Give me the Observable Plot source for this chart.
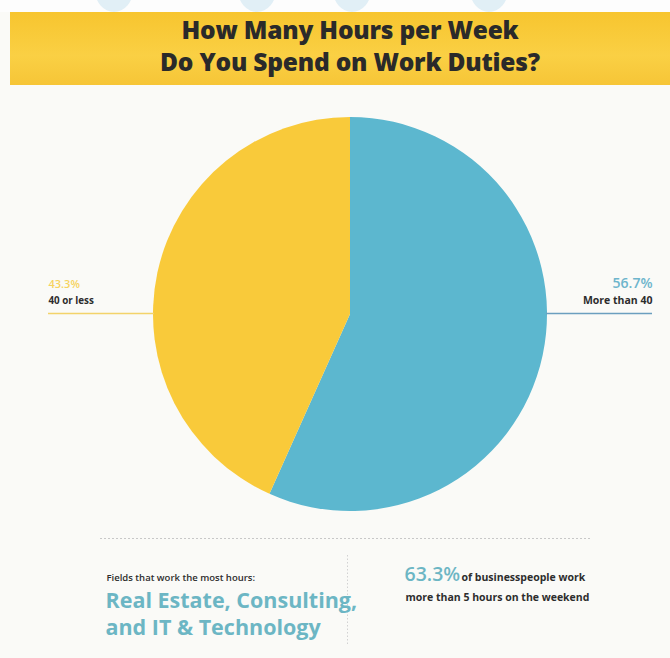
<!DOCTYPE html>
<html>
<head>
<meta charset="utf-8">
<script src="https://cdn.jsdelivr.net/npm/d3@7"></script>
<script src="https://cdn.jsdelivr.net/npm/@observablehq/plot@0.6"></script>
<style>
  html, body { margin: 0; padding: 0; background: #fafaf7; width: 670px; height: 658px; overflow: hidden; }
  #top { height: 12px; background: #fdfdfd; position: relative; overflow: hidden; }
  #top span { position: absolute; top: -32px; width: 38px; height: 44px; border-radius: 50%; background: #e1eff6; }
  #banner { margin-left: 10px; height: 73px; background: linear-gradient(180deg, #f7c52f 0%, #fad044 60%, #f6c537 100%);
    display: flex; flex-direction: column; justify-content: center; align-items: center; padding-bottom: 5px; padding-left: 20px; box-sizing: border-box;
    font-family: "Open Sans", sans-serif; font-weight: 800; font-size: 24.5px; line-height: 32px; color: #2a2a2a; letter-spacing: -0.2px; }
  #chart svg { display: block; }
</style>
</head>
<body>
<div id="top"><span style="left:95px"></span><span style="left:238px"></span><span style="left:333px"></span><span style="left:470px"></span></div>
<div id="banner"><div>How Many Hours per Week</div><div>Do You Spend on Work Duties?</div></div>
<div id="chart"></div>
<script>
const segments = ["More than 40", "40 or less"];
const shares = [56.7, 43.3];
const shareLabels = ["56.7%", "43.3%"];
const sliceColors = ["#5cb7cf", "#f9ca3a"];
const fieldsIntro = "Fields that work the most hours:";
const fieldsLines = ["Real Estate, Consulting,", "and IT & Technology"];
const weekendShare = "63.3%";
const weekendLines = ["of businesspeople work", "more than 5 hours on the weekend"];

const data = segments.map((s, i) => ({segment: s, share: shares[i], label: shareLabels[i], color: sliceColors[i]}));

const TOP = 85;
const W = 670, H = 658 - TOP;
const CX = 350, CY = 314, R = 197;

function pieMark(index, scales) {
  const arcs = d3.pie().sort(null).value(d => d.share)(data);
  const cx = scales.x(CX), cy = scales.y(CY);
  const r = scales.x(CX + R) - cx;
  const arc = d3.arc().innerRadius(0).outerRadius(r);
  const g = d3.create("svg:g").attr("transform", `translate(${cx},${cy})`);
  g.selectAll("path").data(arcs).join("path")
    .attr("d", arc)
    .attr("fill", d => d.data.color);
  return g.node();
}

const font = "Open Sans, sans-serif";
const dark = "#2d2d2d";
const teal = "#6cb6c4";

const chart = Plot.plot({
  width: W,
  height: H,
  margin: 0,
  x: {domain: [0, W], range: [0, W], axis: null},
  y: {domain: [TOP, 658], range: [0, H], axis: null},
  style: {fontFamily: font, background: "transparent"},
  marks: [
    pieMark,
    // left label
    Plot.ruleY([313], {x1: 48, x2: 154, stroke: "#f3d36a", strokeWidth: 1.3}),
    Plot.text([data[1]], {x: 48, y: 284, text: "label", fill: "#f6d35e", fontSize: 11, fontWeight: 600, textAnchor: "start", fontFamily: font}),
    Plot.text([data[1]], {x: 48, y: 300, text: "segment", fill: dark, fontSize: 9.8, fontWeight: 700, textAnchor: "start", fontFamily: font}),
    // right label
    Plot.ruleY([313], {x1: 546, x2: 652, stroke: "#6b9fbf", strokeWidth: 1.3}),
    Plot.text([data[0]], {x: 652, y: 283, text: "label", fill: "#6db5cc", fontSize: 14, fontWeight: 600, textAnchor: "end", fontFamily: font}),
    Plot.text([data[0]], {x: 652, y: 300, text: "segment", fill: dark, fontSize: 10.5, fontWeight: 700, textAnchor: "end", fontFamily: font}),
    // dotted separators
    Plot.ruleY([538], {x1: 100, x2: 592, stroke: "#c8c8c8", strokeDasharray: "2,2", strokeWidth: 1}),
    Plot.ruleX([347], {y1: 555, y2: 645, stroke: "#d2d2d2", strokeDasharray: "1.5,2", strokeWidth: 1}),
    // bottom left
    Plot.text([fieldsIntro], {x: 106, y: 577, text: d => d, fill: dark, fontSize: 9.5, fontWeight: 600, textAnchor: "start", fontFamily: font}),
    Plot.text(fieldsLines, {x: 105, y: (d, i) => 601 + i * 27, text: d => d, fill: teal, fontSize: 21.5, fontWeight: 700, textAnchor: "start", fontFamily: font}),
    // bottom right
    Plot.text([weekendShare], {x: 404, y: 574, text: d => d, fill: teal, fontSize: 19.5, fontWeight: 600, textAnchor: "start", fontFamily: font}),
    Plot.text([weekendLines[0]], {x: 461, y: 577, text: d => d, fill: dark, fontSize: 10.5, fontWeight: 700, textAnchor: "start", fontFamily: font}),
    Plot.text([weekendLines[1]], {x: 405, y: 597, text: d => d, fill: dark, fontSize: 10.5, fontWeight: 700, textAnchor: "start", fontFamily: font})
  ]
});
document.getElementById("chart").appendChild(chart);
</script>
</body>
</html>
